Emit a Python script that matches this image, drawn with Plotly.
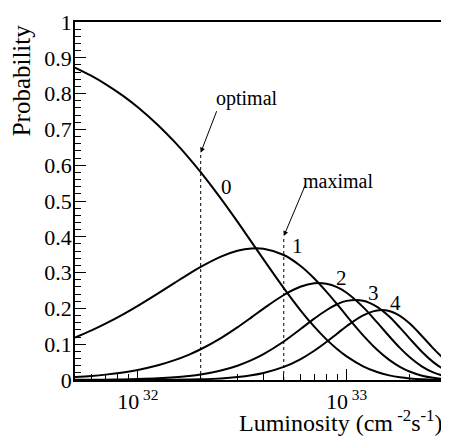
import math
import plotly.graph_objects as go

# Luminosity sample points (cm^-2 s^-1)
lumi = [0.5e32, 0.6e32, 0.7e32, 0.85e32, 1.0e32, 1.25e32, 1.5e32, 1.75e32, 2.0e32,
        2.5e32, 3.0e32, 3.5e32, 4.0e32, 5.0e32, 6.0e32, 7.0e32, 8.0e32, 9.0e32,
        1.0e33, 1.2e33, 1.4e33, 1.6e33, 1.8e33, 2.0e33, 2.3e33, 2.6e33, 2.93e33]

# Probability of n pile-up interactions
p0 = [0.8728, 0.8494, 0.8266, 0.7936, 0.7619, 0.7118, 0.6650, 0.6213, 0.5804,
      0.5066, 0.4422, 0.3860, 0.3369, 0.2567, 0.1955, 0.1490, 0.1135, 0.0865,
      0.0659, 0.0382, 0.0222, 0.0129, 0.0075, 0.0043, 0.0019, 0.0008, 0.0003]
p1 = [0.1187, 0.1386, 0.1574, 0.1835, 0.2072, 0.2420, 0.2713, 0.2957, 0.3157,
      0.3445, 0.3608, 0.3675, 0.3665, 0.3491, 0.3191, 0.2837, 0.2470, 0.2118,
      0.1792, 0.1247, 0.0845, 0.0561, 0.0366, 0.0236, 0.0120, 0.0060, 0.0028]
p2 = [0.0081, 0.0113, 0.0150, 0.0212, 0.0282, 0.0411, 0.0554, 0.0704, 0.0859,
      0.1171, 0.1472, 0.1749, 0.1994, 0.2374, 0.2604, 0.2701, 0.2687, 0.2592,
      0.2437, 0.2035, 0.1609, 0.1221, 0.0896, 0.0642, 0.0375, 0.0212, 0.0110]
p3 = [0.0004, 0.0006, 0.0010, 0.0016, 0.0026, 0.0047, 0.0075, 0.0112, 0.0156,
      0.0265, 0.0400, 0.0555, 0.0723, 0.1076, 0.1417, 0.1714, 0.1949, 0.2115,
      0.2210, 0.2214, 0.2042, 0.1771, 0.1462, 0.1164, 0.0782, 0.0500, 0.0291]
p4 = [0.0000, 0.0000, 0.0000, 0.0001, 0.0002, 0.0004, 0.0008, 0.0013, 0.0021,
      0.0045, 0.0082, 0.0132, 0.0197, 0.0366, 0.0578, 0.0816, 0.1060, 0.1294,
      0.1503, 0.1807, 0.1944, 0.1927, 0.1790, 0.1583, 0.1223, 0.0884, 0.0580]
curves = [p0, p1, p2, p3, p4]
curve_labels = ["0", "1", "2", "3", "4"]
label_lumi = [2.67e32, 5.8e32, 9.5e32, 1.35e33, 1.71e33]
label_prob = [0.538, 0.374, 0.286, 0.244, 0.216]

# Marker lines
optimal_lumi = 2.0e32
optimal_top = 0.63
maximal_lumi = 5.0e32
maximal_top = 0.395

x_range = [5e31, 2.96e33]
y_ticks = [0, 0.1, 0.2, 0.3, 0.4, 0.5, 0.6, 0.7, 0.8, 0.9, 1]
y_ticklabels = ["0", "0.1", "0.2", "0.3", "0.4", "0.5", "0.6", "0.7", "0.8", "0.9", "1"]
x_ticks = [1e32, 1e33]
x_ticklabels = ["10<sup> 32</sup>", "10<sup> 33</sup>"]
x_minor = [6e31, 7e31, 8e31, 9e31, 2e32, 3e32, 4e32, 5e32, 6e32, 7e32, 8e32, 9e32, 2e33]

FONT = "Liberation Serif"

fig = go.Figure()
for ys in curves:
    fig.add_trace(go.Scatter(x=lumi, y=ys, mode="lines", line=dict(color="black", width=2, shape="spline"),
                             showlegend=False, hoverinfo="skip"))

fig.add_trace(go.Scatter(x=[optimal_lumi, optimal_lumi], y=[0, optimal_top], mode="lines",
                         line=dict(color="black", width=1, dash="dot"), showlegend=False))
fig.add_trace(go.Scatter(x=[maximal_lumi, maximal_lumi], y=[0, maximal_top], mode="lines",
                         line=dict(color="black", width=1, dash="dot"), showlegend=False))

annotations = []
for t, lx, ly in zip(curve_labels, label_lumi, label_prob):
    annotations.append(dict(x=math.log10(lx), y=ly, xref="x", yref="y", text=t, showarrow=False,
                            font=dict(family=FONT, size=21, color="black")))

annotations.append(dict(x=math.log10(optimal_lumi), y=0.635, xref="x", yref="y",
                        ax=math.log10(2.4e32), ay=0.755, axref="x", ayref="y",
                        showarrow=True, arrowhead=2, arrowsize=1, arrowwidth=1, arrowcolor="black", text=""))
annotations.append(dict(x=math.log10(3.32e32), y=0.785, xref="x", yref="y", text="optimal", showarrow=False,
                        font=dict(family=FONT, size=20, color="black")))
annotations.append(dict(x=math.log10(maximal_lumi), y=0.402, xref="x", yref="y",
                        ax=math.log10(6.4e32), ay=0.55, axref="x", ayref="y",
                        showarrow=True, arrowhead=2, arrowsize=1, arrowwidth=1, arrowcolor="black", text=""))
annotations.append(dict(x=math.log10(9.1e32), y=0.555, xref="x", yref="y", text="maximal", showarrow=False,
                        font=dict(family=FONT, size=20, color="black")))

annotations.append(dict(x=1.0, y=-0.163, xref="paper", yref="paper", xanchor="right", yanchor="bottom",
                        text="Luminosity (cm<sup> -2</sup>s<sup>-1</sup>)", showarrow=False,
                        font=dict(family=FONT, size=24, color="black")))
annotations.append(dict(x=-0.145, y=1.0, xref="paper", yref="paper", xanchor="center", yanchor="top",
                        text="Probability", textangle=-90, showarrow=False,
                        font=dict(family=FONT, size=25, color="black")))

# page body has an 8px margin, so the figure is drawn 8px smaller with shifted margins
fig.update_layout(
    width=441, height=429,
    margin=dict(l=67, r=2, t=11, b=57),
    paper_bgcolor="white", plot_bgcolor="white",
    font=dict(family=FONT, size=22, color="black"),
    annotations=annotations,
    showlegend=False,
)
fig.update_xaxes(type="log", range=[math.log10(x_range[0]), math.log10(x_range[1])],
                 tickmode="array", tickvals=x_ticks, ticktext=x_ticklabels,
                 ticks="inside", ticklen=11, tickwidth=1, tickcolor="black",
                 ticklabelstandoff=1, ticklabeloverflow="allow",
                 minor=dict(tickmode="array", tickvals=x_minor, ticks="inside", ticklen=6, tickcolor="black"),
                 showline=True, linecolor="black", linewidth=1.5, mirror=True,
                 showgrid=False, zeroline=False, tickfont=dict(family=FONT, size=22))
fig.update_yaxes(range=[0, 1], tickmode="array", tickvals=y_ticks, ticktext=y_ticklabels,
                 ticks="inside", ticklen=11, tickwidth=1, tickcolor="black",
                 ticklabeloverflow="allow", ticklabelstandoff=-3,
                 minor=dict(dtick=0.02, ticks="inside", ticklen=6, tickcolor="black"),
                 showline=True, linecolor="black", linewidth=1.5, mirror=True,
                 showgrid=False, zeroline=False, tickfont=dict(family=FONT, size=22))

fig.write_html("out.html")
